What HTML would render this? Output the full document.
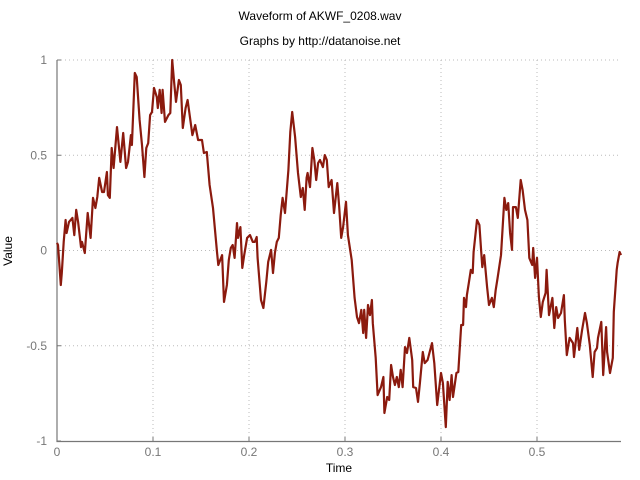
<!DOCTYPE html>
<html><head><meta charset="utf-8"><style>
html,body{margin:0;padding:0;background:#fff;}
svg{display:block;font-family:"Liberation Sans",sans-serif;}
</style></head><body>
<svg id="chart" width="640" height="480">
<text x="320" y="20" text-anchor="middle" font-size="12" fill="#000">Waveform of AKWF_0208.wav</text>
<text x="320" y="45" text-anchor="middle" font-size="12" fill="#000">Graphs by http://datanoise.net</text>
<text x="339" y="472" text-anchor="middle" font-size="12" fill="#000">Time</text>
<text transform="translate(12,251) rotate(-90)" text-anchor="middle" font-size="12" fill="#000">Value</text>
<g id="grid"></g><g id="axes"></g><g id="series"></g>
</svg>
<script>
const times=[0,0.001,0.004,0.005,0.007,0.009,0.010,0.0125,0.016,0.018,0.020,0.022,0.025,0.026,0.029,0.032,0.035,0.0375,0.040,0.042,0.044,0.047,0.049,0.052,0.053,0.055,0.057,0.059,0.0625,0.066,0.069,0.072,0.074,0.077,0.078,0.081,0.083,0.086,0.0885,0.091,0.093,0.095,0.097,0.099,0.101,0.104,0.105,0.107,0.109,0.110,0.1125,0.116,0.118,0.120,0.122,0.124,0.127,0.129,0.131,0.134,0.136,0.141,0.144,0.147,0.151,0.153,0.156,0.159,0.1625,0.1667,0.168,0.172,0.174,0.177,0.179,0.181,0.183,0.185,0.1875,0.1885,0.191,0.193,0.195,0.198,0.201,0.204,0.206,0.208,0.209,0.2125,0.215,0.218,0.220,0.223,0.225,0.227,0.229,0.231,0.233,0.235,0.2375,0.241,0.243,0.245,0.248,0.251,0.254,0.256,0.258,0.260,0.261,0.2635,0.266,0.268,0.270,0.272,0.274,0.277,0.279,0.281,0.283,0.286,0.2885,0.292,0.294,0.296,0.298,0.301,0.303,0.307,0.310,0.3125,0.3146,0.317,0.319,0.320,0.322,0.324,0.326,0.328,0.329,0.332,0.334,0.3375,0.340,0.341,0.344,0.346,0.348,0.350,0.352,0.354,0.356,0.358,0.360,0.3625,0.3646,0.367,0.370,0.371,0.374,0.376,0.378,0.381,0.383,0.386,0.3906,0.393,0.396,0.400,0.402,0.405,0.407,0.409,0.411,0.4125,0.416,0.418,0.421,0.423,0.424,0.426,0.427,0.429,0.431,0.433,0.434,0.4375,0.440,0.442,0.443,0.445,0.448,0.450,0.453,0.455,0.457,0.459,0.4625,0.466,0.468,0.470,0.472,0.474,0.475,0.478,0.480,0.483,0.485,0.4875,0.490,0.492,0.495,0.496,0.498,0.500,0.502,0.504,0.506,0.509,0.510,0.5125,0.516,0.518,0.520,0.522,0.525,0.528,0.529,0.531,0.534,0.5375,0.5385,0.542,0.544,0.547,0.550,0.552,0.555,0.558,0.560,0.5625,0.5635,0.567,0.569,0.572,0.573,0.576,0.579,0.580,0.583,0.584,0.586,0.5875];
const values=[0.04,0.029,-0.181,-0.118,0.045,0.160,0.092,0.150,0.171,0.081,0.213,0.150,0.018,0.045,-0.013,0.197,0.066,0.276,0.223,0.281,0.381,0.307,0.307,0.412,0.291,0.276,0.538,0.433,0.648,0.465,0.617,0.433,0.465,0.606,0.554,0.932,0.911,0.685,0.554,0.386,0.538,0.564,0.711,0.727,0.853,0.806,0.748,0.843,0.722,0.843,0.675,0.711,0.722,1.000,0.885,0.780,0.895,0.869,0.643,0.748,0.790,0.606,0.659,0.580,0.580,0.512,0.517,0.344,0.223,-0.008,-0.076,-0.024,-0.270,-0.181,-0.050,0.013,0.029,-0.039,0.144,0.066,0.123,-0.092,-0.024,0.066,0.081,0.045,0.045,0.071,-0.039,-0.260,-0.302,-0.165,-0.060,0.003,-0.118,-0.013,0.045,0.066,0.186,0.276,0.197,0.423,0.622,0.727,0.596,0.407,0.281,0.328,0.213,0.381,0.407,0.333,0.538,0.475,0.370,0.459,0.475,0.438,0.501,0.475,0.333,0.370,0.197,0.354,0.228,0.066,0.123,0.255,0.081,-0.050,-0.249,-0.349,-0.381,-0.312,-0.433,-0.312,-0.459,-0.286,-0.339,-0.260,-0.381,-0.564,-0.759,-0.717,-0.664,-0.853,-0.769,-0.785,-0.601,-0.664,-0.706,-0.664,-0.717,-0.627,-0.717,-0.507,-0.538,-0.459,-0.575,-0.717,-0.722,-0.795,-0.696,-0.533,-0.591,-0.575,-0.486,-0.591,-0.811,-0.643,-0.696,-0.927,-0.690,-0.785,-0.654,-0.769,-0.643,-0.638,-0.391,-0.391,-0.249,-0.297,-0.234,-0.171,-0.102,-0.118,-0.008,0.160,0.134,-0.013,-0.087,-0.024,-0.192,-0.286,-0.249,-0.297,-0.207,-0.144,-0.024,0.276,0.213,0.249,0.092,0.003,0.228,0.228,0.171,0.370,0.318,0.213,0.160,-0.039,-0.076,0.013,-0.144,-0.039,-0.244,-0.349,-0.270,-0.223,-0.102,-0.339,-0.249,-0.407,-0.297,-0.354,-0.328,-0.234,-0.365,-0.549,-0.459,-0.486,-0.559,-0.407,-0.522,-0.417,-0.328,-0.381,-0.496,-0.664,-0.533,-0.512,-0.459,-0.375,-0.654,-0.402,-0.533,-0.643,-0.564,-0.323,-0.102,-0.066,-0.008,-0.024];
const xTicks=[0,0.1,0.2,0.3,0.4,0.5];
const xTickLabels=["0","0.1","0.2","0.3","0.4","0.5"];
const yTicks=[-1,-0.5,0,0.5,1];
const yTickLabels=["-1","-0.5","0","0.5","1"];
const X0=57,X1=621,Y0=441,Y1=60,xMax=0.5875;
function xs(t){return X0+(t/xMax)*(X1-X0);}
function ys(v){return Y0-(v+1)/2*(Y0-Y1);}
const NS="http://www.w3.org/2000/svg";
function mk(tag,attrs,parent){const e=document.createElementNS(NS,tag);for(const k in attrs)e.setAttribute(k,attrs[k]);parent.appendChild(e);return e;}
const grid=document.getElementById('grid'),axes=document.getElementById('axes'),series=document.getElementById('series');
xTicks.forEach((t,i)=>{
  const x=xs(t);
  if(t>0){const g=mk('line',{x1:x,y1:Y1,x2:x,y2:Y0,stroke:'#bbb','stroke-dasharray':'1,3'},grid);
  
  }
  const tk=mk('line',{x1:x,y1:Y0,x2:x,y2:Y0-4,stroke:'#777'},axes);
  
  
  const l=mk('text',{x:x,y:Y0+15,'text-anchor':'middle','font-size':'12',fill:'#777'},axes);
  l.textContent=xTickLabels[i];
  
  
});
yTicks.forEach((v,i)=>{
  const y=ys(v);
  if(v>-1){const g=mk('line',{x1:X0,y1:y,x2:X1,y2:y,stroke:'#bbb','stroke-dasharray':'1,3'},grid);
  
  }
  const tk=mk('line',{x1:X0,y1:y,x2:X0+4,y2:y,stroke:'#777'},axes);
  
  
  const l=mk('text',{x:X0-10,y:y+4,'text-anchor':'end','font-size':'12',fill:'#777'},axes);
  l.textContent=yTickLabels[i];
  
  
});
const ax=mk('path',{d:`M${X0},${Y1}V${Y0+0.5}H${X1}`,fill:'none',stroke:'#777','stroke-width':'1.2'},axes);


const d=times.map((t,i)=>(i?'L':'M')+xs(t).toFixed(1)+','+ys(values[i]).toFixed(1)).join('');
const p=mk('path',{d:d,fill:'none',stroke:'#8b1a0e','stroke-width':'2.2','stroke-linejoin':'round'},series);


</script>
</body></html>
